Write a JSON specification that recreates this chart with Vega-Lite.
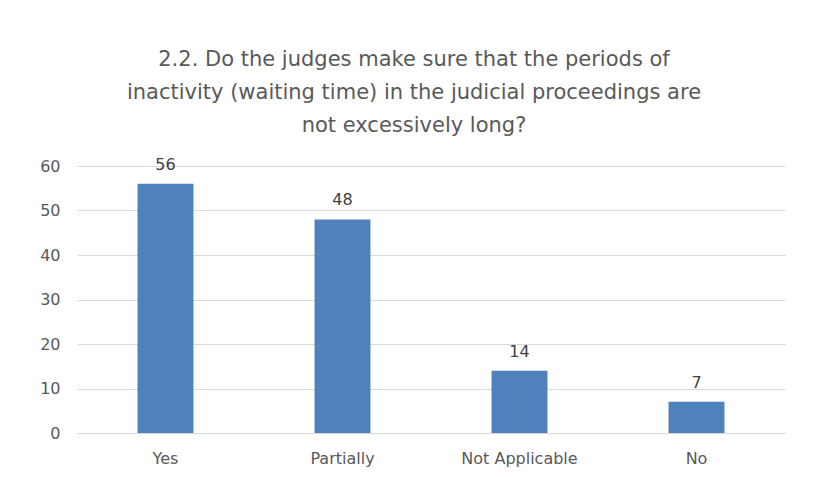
{
  "$schema": "https://vega.github.io/schema/vega-lite/v6.json",
  "autosize": "none",
  "width": 708,
  "height": 267,
  "padding": {"left": 77, "top": 166, "right": 29, "bottom": 63},
  "background": "white",
  "title": {
    "text": ["2.2. Do the judges make sure that the periods of", "inactivity (waiting time) in the judicial proceedings are", "not excessively long?"],
    "font": "DejaVu Sans",
    "fontSize": 21,
    "fontWeight": "normal",
    "color": "#595959",
    "lineHeight": 33,
    "anchor": "middle",
    "dx": -17,
    "offset": 21
  },
  "data": {
    "values": [
      {"answer": "Yes", "count": 56},
      {"answer": "Partially", "count": 48},
      {"answer": "Not Applicable", "count": 14},
      {"answer": "No", "count": 7}
    ]
  },
  "encoding": {
    "x": {
      "field": "answer",
      "type": "nominal",
      "sort": null,
      "scale": {"paddingInner": 0.684, "paddingOuter": 0.342},
      "axis": {
        "title": null,
        "labelAngle": 0,
        "labelFont": "DejaVu Sans",
        "labelFontSize": 16,
        "labelColor": "#595959",
        "labelPadding": 17,
        "ticks": false,
        "domainColor": "#d9d9d9",
        "domainWidth": 1
      }
    },
    "y": {
      "field": "count",
      "type": "quantitative",
      "scale": {"domain": [0, 60], "nice": false},
      "axis": {
        "title": null,
        "values": [0, 10, 20, 30, 40, 50, 60],
        "labelFont": "DejaVu Sans",
        "labelFontSize": 16,
        "labelColor": "#595959",
        "labelPadding": 17,
        "ticks": false,
        "domain": false,
        "gridColor": "#d9d9d9",
        "gridWidth": 1
      }
    }
  },
  "layer": [
    {"mark": {"type": "bar", "color": "#4f81bd"}},
    {
      "mark": {"type": "text", "baseline": "bottom", "dy": -11, "font": "DejaVu Sans", "fontSize": 16, "color": "#404040"},
      "encoding": {"text": {"field": "count", "type": "quantitative"}}
    }
  ],
  "config": {"view": {"stroke": null}}
}
